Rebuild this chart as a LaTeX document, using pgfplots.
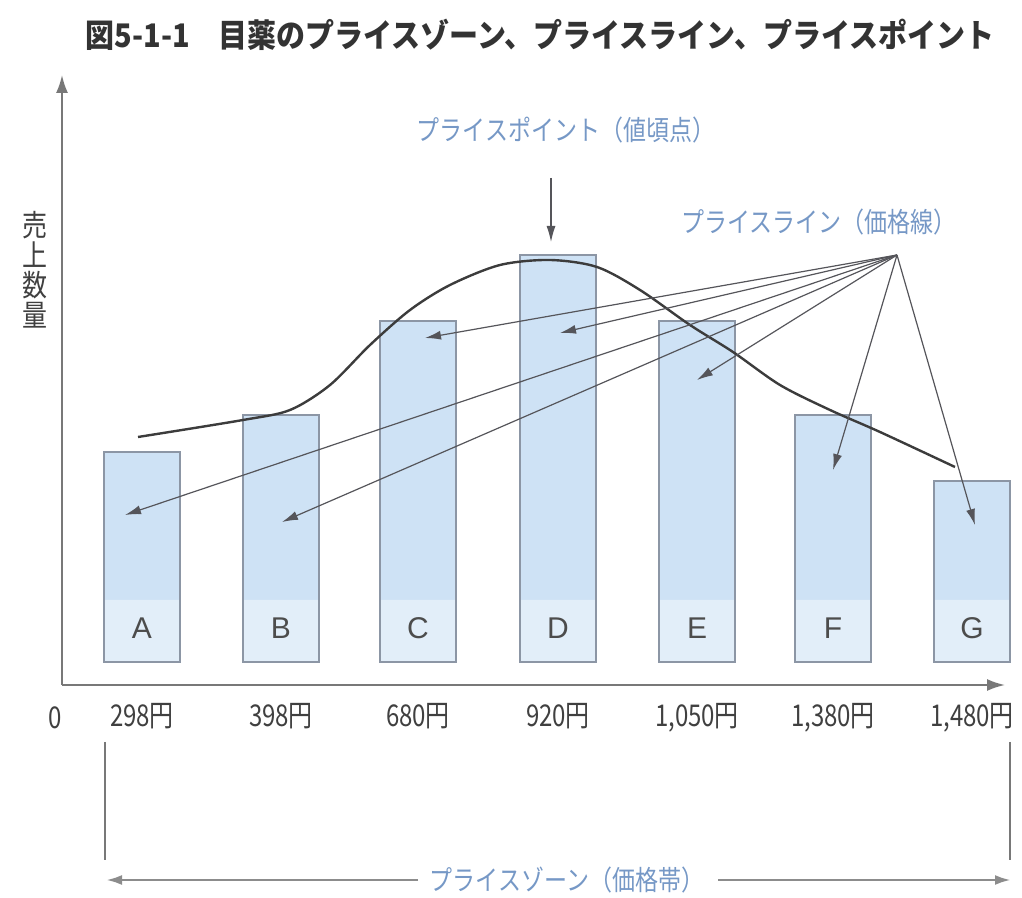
\documentclass[border=0pt]{standalone}
\usepackage{pgfplots}
\pgfplotsset{compat=1.18}
\usepackage{fontspec}
\setmainfont{Noto Sans CJK JP}
\newfontfamily\latinfont{Liberation Sans}
\usetikzlibrary{arrows.meta}
\definecolor{upc}{RGB}{206,226,245}
\definecolor{lowc}{RGB}{226,238,249}
\definecolor{barc}{RGB}{140,150,165}
\definecolor{bluetxt}{RGB}{118,152,198}
\definecolor{axc}{RGB}{120,120,120}
\definecolor{curvec}{RGB}{60,60,60}
\definecolor{arrc}{RGB}{85,85,90}
\begin{document}
\begin{tikzpicture}
\begin{axis}[
  x=0.5pt, y=0.5pt,
  xmin=62, xmax=1005, ymin=-23, ymax=587,
  axis lines=left,
  axis line style={draw=axc, line width=1pt, -{Latex[length=9pt,width=6pt]}},
  ytick=\empty,
  xtick={142,281,418,558,697,833,972},
  xticklabels={298円,398円,680円,920円,{1,050円},{1,380円},{1,480円}},
  major tick length=0pt,
  xticklabel style={font=\fontsize{12}{14}\selectfont, text=black!75, yscale=1.25, yshift=-4pt},
  clip=false,
]
% full bars (upper colour)
\addplot[ybar, bar width=76, bar shift=0pt, fill=upc, draw=none]
  coordinates {(142,210) (281,247) (418,341) (558,407) (697,341) (833,247) (972,181)};
% lighter lower part
\addplot[ybar, bar width=76, bar shift=0pt, fill=lowc, draw=none]
  coordinates {(142,62) (281,62) (418,62) (558,62) (697,62) (833,62) (972,62)};
% outlines
\addplot[ybar, bar width=76, bar shift=0pt, fill=none, draw=barc, line width=0.6pt]
  coordinates {(142,210) (281,247) (418,341) (558,407) (697,341) (833,247) (972,181)};
% demand curve
\addplot[smooth, curvec, line width=1.2pt, tension=0.5]
  coordinates {(138,225) (243,242) (290,252) (330,277) (370,317) (410,352) (450,377) (500,397) (550,402) (597,395) (640,372) (690,337) (733,310) (780,277) (830,252) (880,230) (955,195)};

% bar letters
\foreach \xx/\ll in {142/A,281/B,418/C,558/D,697/E,833/F,972/G}{
  \edef\tmp{\noexpand\node[font=\noexpand\latinfont\noexpand\fontsize{15}{17}\noexpand\selectfont, text=black!70] at (axis cs:\xx,34) {\ll};}
  \tmp
}

% price line arrows
\foreach \tx/\ty in {125/147, 282/140, 425/324, 560/329, 697/282, 833/192, 975/137}{
  \edef\tmp{\noexpand\draw[arrc, line width=0.6pt, -{Latex[length=8pt,width=4.5pt]}] (axis cs:897,407) -- (axis cs:\tx,\ty);}
  \tmp
}
% price point arrow
\draw[arrc, line width=0.6pt, -{Latex[length=8pt,width=4.5pt]}] (axis cs:551,484) -- (axis cs:551,420);

% labels
\node[font=\fontsize{11.5}{13}\selectfont, text=bluetxt, yscale=1.2] at (axis cs:566,532) {プライスポイント（値頃点）};
\node[font=\fontsize{11.5}{13}\selectfont, text=bluetxt, yscale=1.2] at (axis cs:819,440) {プライスライン（価格線）};

% title
\node[font=\fontsize{14.5}{17}\selectfont\bfseries, text=black!80, yscale=1.12] at (axis cs:540,627) {図5-1-1　目薬のプライスゾーン、プライスライン、プライスポイント};

% y label
\node[font=\fontsize{12.5}{12.5}\selectfont, text=black!75, yscale=1.2, align=center] at (axis cs:35,392) {売\\上\\数\\量};

% origin label
\node[font=\fontsize{12}{14}\selectfont, text=black!75, yscale=1.25] at (axis cs:55,-56) {0};

% price zone
\draw[axc, line width=0.6pt] (axis cs:105,-80) -- (axis cs:105,-198);
\draw[axc, line width=0.6pt] (axis cs:1010,-80) -- (axis cs:1010,-198);
\draw[black!45, line width=1.4pt, -{Latex[length=8pt,width=5pt]}] (axis cs:418,-218) -- (axis cs:106,-218);
\draw[black!45, line width=1.4pt, -{Latex[length=8pt,width=5pt]}] (axis cs:718,-218) -- (axis cs:1011,-218);
\node[font=\fontsize{11.5}{13}\selectfont, text=bluetxt, yscale=1.2] at (axis cs:567,-218) {プライスゾーン（価格帯）};

\coordinate (BL) at (axis cs:0,-236);
\coordinate (TR) at (axis cs:1022,662);
\end{axis}
\pgfresetboundingbox
\path[use as bounding box] (BL) rectangle (TR);
\end{tikzpicture}
\end{document}
